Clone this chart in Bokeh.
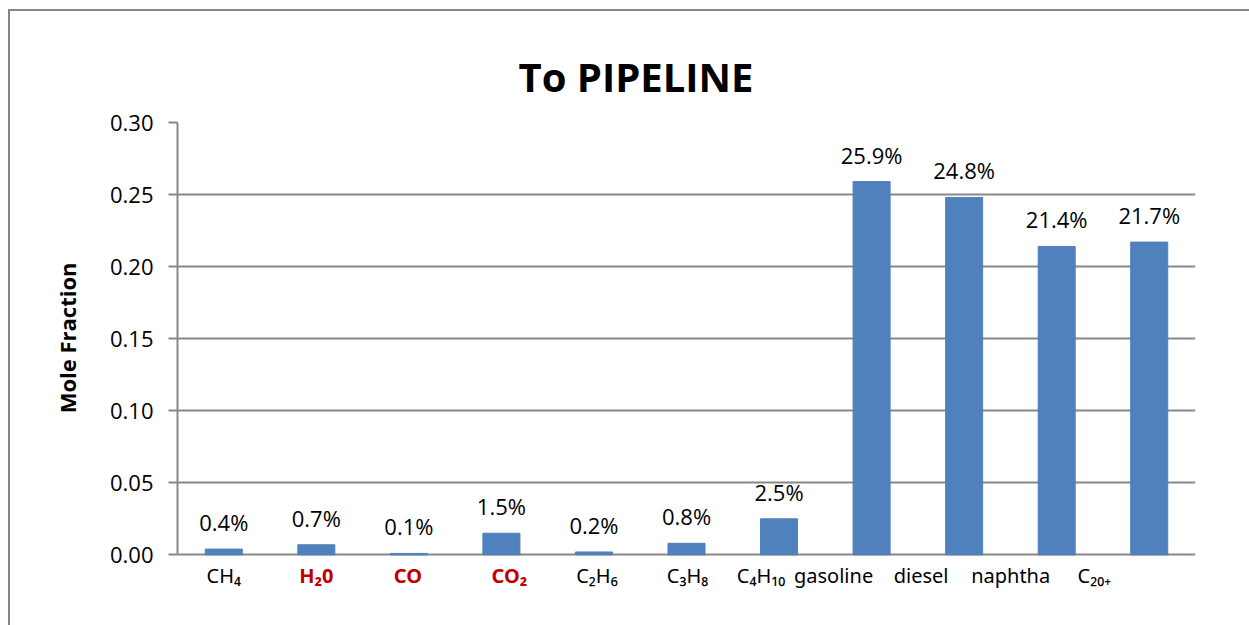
from bokeh.plotting import figure
from bokeh.models import (ColumnDataSource, LabelSet, Range1d, FixedTicker,
                          NumeralTickFormatter, FactorRange, Title)
from bokeh.core.properties import value
from bokeh.embed import file_html
from bokeh.resources import INLINE

# ---- data ----
categories = ["CH4", "H2O", "CO", "CO2", "C2H6", "C3H8", "C4H10",
              "gasoline", "diesel", "naphtha", "C20+"]
category_labels = ["CH₄", "H₂0", "CO", "CO₂", "C₂H₆", "C₃H₈", "C₄H₁₀",
                   "gasoline", "diesel", "naphtha", "C₂₀₊"]
mole_fraction = [0.004, 0.007, 0.001, 0.015, 0.002, 0.008, 0.025,
                 0.259, 0.248, 0.214, 0.217]
highlighted = [False, True, True, True, False, False, False,
               False, False, False, False]
y_ticks = [0.00, 0.05, 0.10, 0.15, 0.20, 0.25, 0.30]

title_text = "To PIPELINE"
y_title = "Mole Fraction"

# ---- styling / layout ----
BAR = "#4F81BD"
GRID = "#878787"
RED = "#C00000"
FONT = "Open Sans"
# horizontal nudges (px) of the category labels, as placed in the original
label_dx = [0, 0, -1, 8, 3, 1, -18, -38, -43, -46, -55]

src = ColumnDataSource(dict(
    cat=categories,
    val=mole_fraction,
    pct=[f"{v * 100:.1f}%" for v in mole_fraction],
))

def label_source(idx):
    return ColumnDataSource(dict(cat=[categories[i] for i in idx],
                                 lab=[category_labels[i] for i in idx],
                                 base=[0.0] * len(idx),
                                 dx=[label_dx[i] for i in idx]))

src_norm = label_source([i for i, h in enumerate(highlighted) if not h])
src_red = label_source([i for i, h in enumerate(highlighted) if h])

p = figure(frame_width=1018, frame_height=490,
           x_range=FactorRange(*categories),
           y_range=Range1d(-0.04, 0.30), output_backend="svg",
           toolbar_location=None, title=title_text,
           min_border_left=167, min_border_right=54,
           min_border_top=111, min_border_bottom=13)
p.styles = {"margin-left": "8px", "margin-top": "9px",
            "border-left": f"2px solid {GRID}", "border-top": f"2px solid {GRID}"}

p.vbar(x="cat", top="val", bottom=0, width=0.4, source=src, color=BAR)

# title
p.title.text_font = FONT
p.title.text_font_size = "40px"
p.title.text_font_style = "bold"
p.title.text_color = "#000000"
p.title.align = "left"
p.title.offset = 341
p.title.standoff = 38

# axes
p.xaxis.visible = False
ya = p.yaxis[0]
ya.bounds = (y_ticks[0], y_ticks[-1])
ya.ticker = FixedTicker(ticks=y_ticks)
ya.formatter = NumeralTickFormatter(format="0.00")
ya.minor_tick_line_color = None
ya.major_tick_out = 9
ya.major_tick_in = 0
ya.major_tick_line_color = GRID
ya.major_tick_line_width = 2
ya.axis_line_color = GRID
ya.axis_line_width = 2
ya.major_label_text_font = FONT
ya.major_label_text_font_size = "22px"
ya.major_label_text_color = "#000000"
ya.major_label_standoff = 15

# y-axis title, centred on the 0..0.30 part of the axis
p.add_layout(Title(text=y_title, align="right", offset=140,
                   vertical_align="bottom", standoff=50,
                   text_font=FONT, text_font_size="22px",
                   text_font_style="bold", text_color="#000000"), "left")

p.xgrid.visible = False
p.ygrid.ticker = FixedTicker(ticks=y_ticks)
p.ygrid.grid_line_color = GRID
p.ygrid.grid_line_width = 2
p.outline_line_color = None

# value labels
p.add_layout(LabelSet(x="cat", y="val", text="pct", source=src,
                      text_align="center", text_baseline="alphabetic",
                      y_offset=18, text_font=value(FONT), text_font_size="22px",
                      text_color="#000000"))

# category labels
p.add_layout(LabelSet(x="cat", y="base", text="lab", source=src_norm,
                      x_offset="dx", text_align="center",
                      text_baseline="alphabetic", y_offset=-28,
                      text_font=value("Noto Sans"), text_font_size="20px",
                      text_color="#000000"))
p.add_layout(LabelSet(x="cat", y="base", text="lab", source=src_red,
                      x_offset="dx", text_align="center",
                      text_baseline="alphabetic", y_offset=-28,
                      text_font=value("Noto Sans"), text_font_size="20px",
                      text_font_style="bold", text_color=RED))

open("out.html", "w").write(file_html(p, INLINE))
